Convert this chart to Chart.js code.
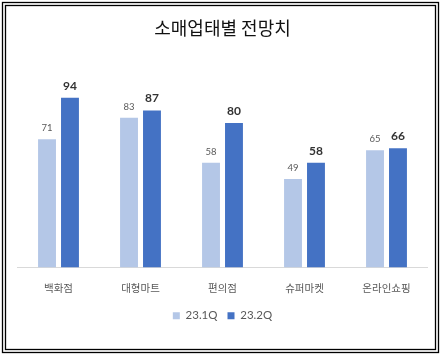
<!DOCTYPE html>
<html>
<head>
<meta charset="utf-8">
<script src="https://cdn.jsdelivr.net/npm/chart.js@4"></script>
<style>
html,body{margin:0;padding:0;background:#fff;}
#wrap{width:444px;height:356px;position:relative;}
</style>
</head>
<body>
<div id="wrap"><canvas id="c" width="444" height="356"></canvas></div>
<script>
const titleText = '소매업태별 전망치';
const categories = ['백화점', '대형마트', '편의점', '슈퍼마켓', '온라인쇼핑'];
const seriesNames = ['23.1Q', '23.2Q'];
const values1Q = [71, 83, 58, 49, 65];
const values2Q = [94, 87, 80, 58, 66];
const yTicks = [0, 100];

const frame = {
  id: 'frame',
  beforeDraw(chart) {
    const ctx = chart.ctx;
    ctx.save();
    ctx.fillStyle = '#fff';
    ctx.fillRect(0, 0, chart.width, chart.height);
    ctx.strokeStyle = '#000';
    ctx.lineWidth = 1.3;
    ctx.strokeRect(2.5, 2.5, 436, 350);
    ctx.strokeRect(5.5, 5.5, 430, 344);
    ctx.restore();
  }
};

const dataLabels = {
  id: 'dataLabels',
  afterDatasetsDraw(chart) {
    const ctx = chart.ctx;
    ctx.save();
    ctx.textAlign = 'center';
    ctx.textBaseline = 'alphabetic';
    chart.data.datasets.forEach((ds, i) => {
      const meta = chart.getDatasetMeta(i);
      ctx.font = i === 0 ? '9.5px Lato' : 'bold 12px Lato';
      ctx.fillStyle = i === 0 ? '#595959' : '#333333';
      meta.data.forEach((el, j) => {
        ctx.fillText(String(ds.data[j]), el.x, el.y - 8);
      });
    });
    ctx.restore();
  }
};

new Chart(document.getElementById('c'), {
  type: 'bar',
  data: {
    labels: categories,
    datasets: [
      { label: seriesNames[0], data: values1Q, backgroundColor: '#B4C7E7' },
      { label: seriesNames[1], data: values2Q, backgroundColor: '#4472C4' }
    ]
  },
  options: {
    responsive: false,
    animation: false,
    devicePixelRatio: 1,
    categoryPercentage: 0.56,
    barPercentage: 0.78,
    layout: { padding: { top: 8, left: 17.5, right: 16.5, bottom: 24.5 } },
    plugins: {
      tooltip: { enabled: false },
      title: {
        display: true,
        text: titleText,
        color: '#111',
        font: { family: '"Noto Sans CJK KR"', size: 18, weight: 'normal' },
        padding: { top: 9.2, bottom: 48.2 }
      },
      legend: {
        display: true,
        position: 'bottom',
        labels: {
          boxWidth: 7,
          boxHeight: 7,
          padding: 10,
          color: '#595959',
          font: { family: 'Lato', size: 11.5 }
        }
      }
    },
    scales: {
      x: {
        grid: { display: false },
        border: { display: true, color: '#d9d9d9', width: 1 },
        ticks: {
          color: '#595959',
          padding: 6,
          font: { family: '"Noto Sans CJK KR"', size: 10.5 }
        },
        afterFit(scale) { scale.height = 32.5; }
      },
      y: {
        display: false,
        min: yTicks[0],
        max: yTicks[1]
      }
    }
  },
  plugins: [frame, dataLabels]
});
</script>
</body>
</html>
